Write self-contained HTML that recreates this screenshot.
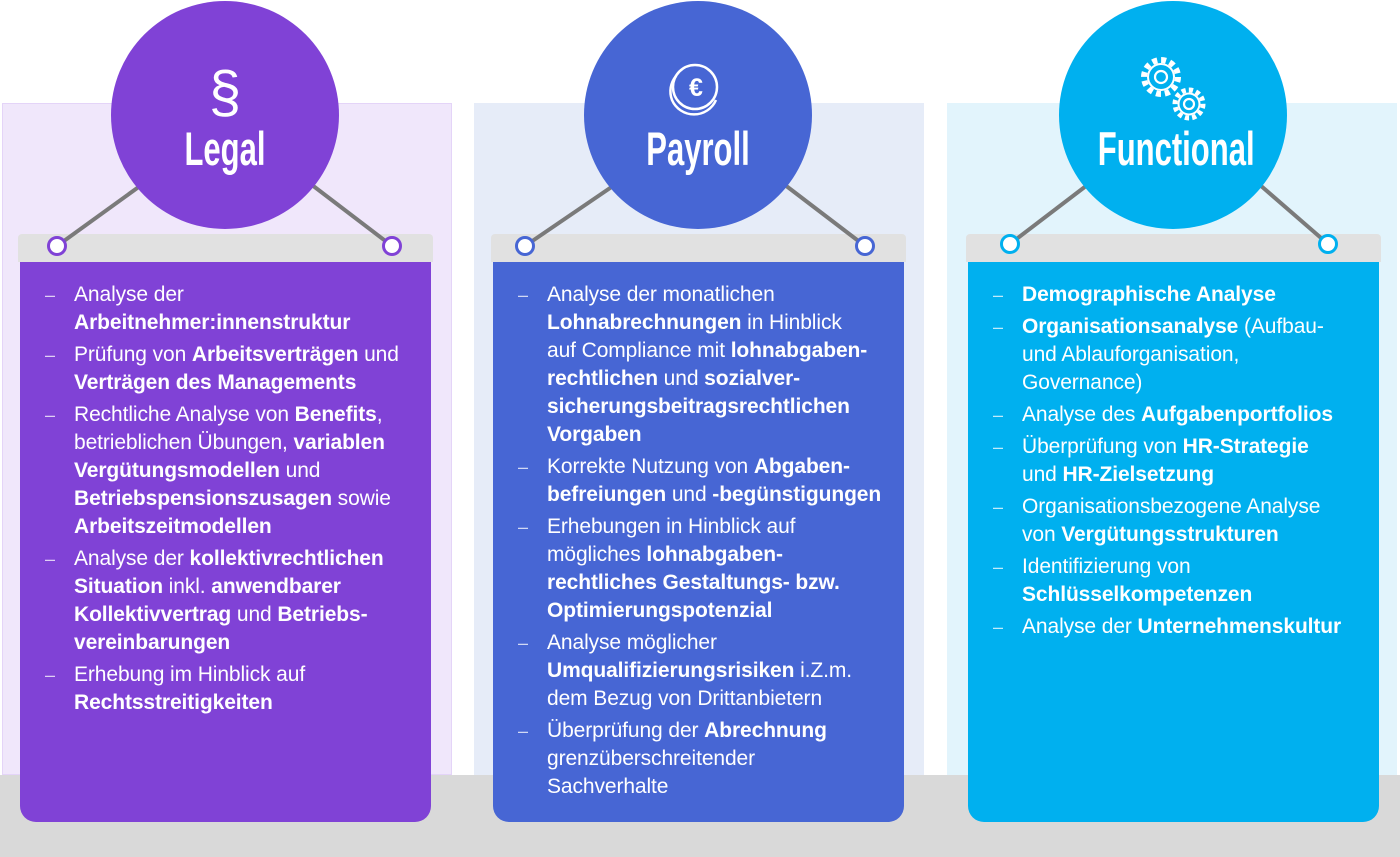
<!DOCTYPE html>
<html><head><meta charset="utf-8"><style>
*{margin:0;padding:0;box-sizing:border-box}
body{width:1400px;height:857px;position:relative;background:#fff;overflow:hidden;font-family:"Liberation Sans",Arial,sans-serif}
.abs{position:absolute}
.band{left:0;top:775px;width:1400px;height:82px;background:#d9d9d9}
.panel{top:103px;height:672px;width:450px}
.bar{top:234px;height:28px;width:415px;background:#e1e1e1;border-radius:4px 4px 0 0}
.card{top:262px;height:560px;width:411px;border-radius:0 0 16px 16px}
.circ{width:228px;height:228px;border-radius:50%;top:1px}
.title{width:228px;text-align:center;top:121px;color:#fff;font-family:"Liberation Sans Narrow","Liberation Sans",sans-serif;font-weight:bold;font-size:47px;transform:scaleX(0.66);letter-spacing:0}
ul{position:absolute;list-style:none;color:#fff;font-size:21px;line-height:28px;letter-spacing:-0.1px}
li{position:relative;padding-left:29px;margin-bottom:4px;white-space:nowrap}
li:before{content:"–";position:absolute;left:0;top:0;opacity:.75;font-size:18px}
b{font-weight:bold}
svg{position:absolute;left:0;top:0}
</style></head><body>
<div class="abs panel" style="left:2px;background:#f0e7fb;border:1px solid #e4d4f8"></div>
<div class="abs panel" style="left:474px;background:#e6ecf8"></div>
<div class="abs panel" style="left:947px;background:#e2f4fc"></div>
<div class="abs band"></div>

<div class="abs bar" style="left:18px"></div>
<div class="abs bar" style="left:491px"></div>
<div class="abs bar" style="left:966px"></div>

<div class="abs card" style="left:20px;background:#8042d6"></div>
<div class="abs card" style="left:493px;background:#4766d4"></div>
<div class="abs card" style="left:968px;background:#00b0ef"></div>

<svg width="1400" height="857">
<g stroke="#7a7a7a" stroke-width="4">
<line x1="140" y1="186" x2="57" y2="246"/><line x1="312" y1="185" x2="392" y2="246"/>
<line x1="613" y1="186" x2="525" y2="246"/><line x1="785" y1="185" x2="865" y2="246"/>
<line x1="1086" y1="186" x2="1010" y2="244"/><line x1="1260" y1="185" x2="1328" y2="244"/>
</g>
</svg>
<div class="abs circ" style="left:111px;background:#8042d6"></div>
<div class="abs circ" style="left:584px;background:#4766d4"></div>
<div class="abs circ" style="left:1059px;background:#00b0ef"></div>
<svg width="1400" height="857">
<g fill="#fff" stroke-width="3">
<circle cx="57" cy="246" r="8.5" stroke="#8042d6"/><circle cx="392" cy="246" r="8.5" stroke="#8042d6"/>
<circle cx="525" cy="246" r="8.5" stroke="#4766d4"/><circle cx="865" cy="246" r="8.5" stroke="#4766d4"/>
<circle cx="1010" cy="244" r="8.5" stroke="#00b0ef"/><circle cx="1328" cy="244" r="8.5" stroke="#00b0ef"/>
</g>
<text x="225" y="112" fill="#fff" font-family="Liberation Sans" font-size="58" text-anchor="middle">§</text>
<g fill="none" stroke="#fff" stroke-width="2.5">
<circle cx="695" cy="87" r="22"/>
<path d="M676 76 a24 24 0 0 0 -4 24 a24 24 0 0 0 44 0"/>
</g>
<text x="696" y="96" fill="#fff" font-family="Liberation Sans" font-size="25" font-weight="bold" text-anchor="middle">€</text>
<g>
<circle cx="1161" cy="77" r="17" fill="none" stroke="#fff" stroke-width="6" stroke-dasharray="5 3.9"/>
<circle cx="1161" cy="77" r="14" fill="#fff"/>
<circle cx="1161" cy="77" r="12" fill="#00b0ef"/>
<path d="M1147 77" />
<circle cx="1161" cy="77" r="6" fill="none" stroke="#fff" stroke-width="2.2"/>
<circle cx="1189" cy="104" r="14" fill="none" stroke="#fff" stroke-width="5" stroke-dasharray="4.2 3.1"/>
<circle cx="1189" cy="104" r="11.5" fill="#fff"/>
<circle cx="1189" cy="104" r="9.5" fill="#00b0ef"/>
<circle cx="1189" cy="104" r="5" fill="none" stroke="#fff" stroke-width="2.2"/>
</g>
</svg>
<div class="abs title" style="left:111px">Legal</div>
<div class="abs title" style="left:584px">Payroll</div>
<div class="abs title" style="left:1059px">Functional</div>

<ul style="left:45px;top:281px">
<li>Analyse der<br><b>Arbeitnehmer:innenstruktur</b></li>
<li>Prüfung von <b>Arbeitsverträgen</b> und<br><b>Verträgen des Managements</b></li>
<li>Rechtliche Analyse von <b>Benefits</b>,<br>betrieblichen Übungen, <b>variablen</b><br><b>Vergütungsmodellen</b> und<br><b>Betriebspensionszusagen</b> sowie<br><b>Arbeitszeitmodellen</b></li>
<li>Analyse der <b>kollektivrechtlichen</b><br><b>Situation</b> inkl. <b>anwendbarer</b><br><b>Kollektivvertrag</b> und <b>Betriebs-</b><br><b>vereinbarungen</b></li>
<li>Erhebung im Hinblick auf<br><b>Rechtsstreitigkeiten</b></li>
</ul>
<ul style="left:518px;top:281px">
<li>Analyse der monatlichen<br><b>Lohnabrechnungen</b> in Hinblick<br>auf Compliance mit <b>lohnabgaben-</b><br><b>rechtlichen</b> und <b>sozialver-</b><br><b>sicherungsbeitragsrechtlichen</b><br><b>Vorgaben</b></li>
<li>Korrekte Nutzung von <b>Abgaben-</b><br><b>befreiungen</b> und <b>-begünstigungen</b></li>
<li>Erhebungen in Hinblick auf<br>mögliches <b>lohnabgaben-</b><br><b>rechtliches Gestaltungs- bzw.</b><br><b>Optimierungspotenzial</b></li>
<li>Analyse möglicher<br><b>Umqualifizierungsrisiken</b> i.Z.m.<br>dem Bezug von Drittanbietern</li>
<li>Überprüfung der <b>Abrechnung</b><br>grenzüberschreitender<br>Sachverhalte</li>
</ul>
<ul style="left:993px;top:281px">
<li><b>Demographische Analyse</b></li>
<li><b>Organisationsanalyse</b> (Aufbau-<br>und Ablauforganisation,<br>Governance)</li>
<li>Analyse des <b>Aufgabenportfolios</b></li>
<li>Überprüfung von <b>HR-Strategie</b><br>und <b>HR-Zielsetzung</b></li>
<li>Organisationsbezogene Analyse<br>von <b>Vergütungsstrukturen</b></li>
<li>Identifizierung von<br><b>Schlüsselkompetenzen</b></li>
<li>Analyse der <b>Unternehmenskultur</b></li>
</ul>
</body></html>
